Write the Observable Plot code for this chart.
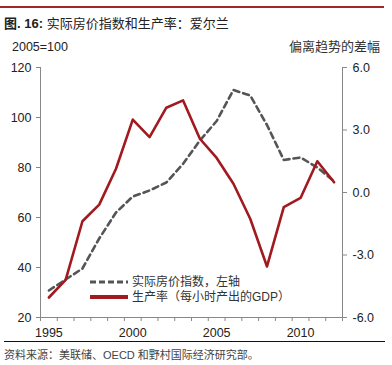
<!DOCTYPE html>
<html>
<head>
<meta charset="utf-8">
<script src="https://cdn.jsdelivr.net/npm/d3@7"></script>
<script src="https://cdn.jsdelivr.net/npm/@observablehq/plot@0.6"></script>
<style>
  html, body { margin: 0; padding: 0; background: #fff; }
  #wrap { position: relative; width: 392px; height: 365px; overflow: hidden;
    font-family: "Liberation Sans", Arial, "Noto Sans CJK SC", sans-serif; color: #222; }
  .abs { position: absolute; white-space: nowrap; }
  #topline { left: 0; top: 6px; width: 384px; height: 2px; background: #a3262a; }
  #title { left: 4px; top: 15px; font-size: 13px; line-height: 18px; color: #222; }
  #ylab { left: 12px; top: 39px; font-size: 12.5px; line-height: 16px; }
  #y2lab { right: 12px; top: 39px; font-size: 13px; line-height: 16px; color: #333; }
  #chart { left: 0; top: 36px; }
  #footline { left: 4px; top: 341px; width: 381px; height: 1px; background: #111; }
  #source { left: 4px; top: 347px; font-size: 11px; line-height: 16px; color: #444; }
</style>
</head>
<body>
<div id="wrap">
  <div id="topline" class="abs"></div>
  <div id="title" class="abs"><b>图. 16:</b> 实际房价指数和生产率：爱尔兰</div>
  <div id="ylab" class="abs">2005=100</div>
  <div id="y2lab" class="abs">偏离趋势的差幅</div>
  <div id="chart" class="abs"></div>
  <div id="footline" class="abs"></div>
  <div id="source" class="abs">资料来源：美联储、OECD 和野村国际经济研究部。</div>
</div>
<script>
const years = [1995, 1996, 1997, 1998, 1999, 2000, 2001, 2002, 2003, 2004, 2005, 2006, 2007, 2008, 2009, 2010, 2011, 2012];
const housePrice = [30.8, 35.2, 39.6, 51.6, 62.0, 68.4, 70.8, 74.0, 81.5, 90.8, 98.6, 111.0, 108.8, 97.0, 83.0, 84.0, 80.0, 74.5];
const productivity = [-5.04, -4.19, -1.38, -0.58, 1.14, 3.50, 2.66, 4.07, 4.42, 2.58, 1.66, 0.42, -1.26, -3.55, -0.70, -0.26, 1.50, 0.49];
const leftTicks = [20, 40, 60, 80, 100, 120];
const rightTicks = [-6, -3, 0, 3, 6];
const xLabels = [1995, 2000, 2005, 2010];
const seriesNames = ["实际房价指数，左轴", "生产率（每小时产出的GDP）"];
const colors = ["#555555", "#a01a1f"];

// map right axis (-6..6) onto left axis (20..120)
const yMin = leftTicks[0], yMax = leftTicks[leftTicks.length - 1];
const rMin = rightTicks[0], rMax = rightTicks[rightTicks.length - 1];
const toLeft = r => yMin + (r - rMin) * (yMax - yMin) / (rMax - rMin);
const fromLeft = v => rMin + (v - yMin) * (rMax - rMin) / (yMax - yMin);

const data = years.map((y, i) => ({year: y, hp: housePrice[i], pr: productivity[i]}));
const x0 = years[0] - 0.5, x1 = years[years.length - 1] + 0.5;
const bandEdges = d3.range(years.length + 1).map(i => x0 + i);

const axisColor = "#888";
const plot = Plot.plot({
  width: 392,
  height: 305,
  marginLeft: 40,
  marginRight: 50,
  marginTop: 31,
  marginBottom: 24,
  x: {domain: [x0, x1]},
  y: {domain: [yMin, yMax]},
  style: {fontFamily: '"Liberation Sans", Arial, "Noto Sans CJK SC", sans-serif', fontSize: "12.5px", color: "#222", background: "transparent", overflow: "visible"},
  marks: [
    Plot.ruleX([x0, x1], {stroke: axisColor}),
    Plot.ruleY([yMin], {stroke: axisColor}),
    Plot.axisY({ticks: leftTicks, tickSize: 4, tickPadding: 5, stroke: axisColor, fill: "#222", tickFormat: d => String(d), label: null}),
    Plot.axisY({anchor: "right", ticks: rightTicks.map(toLeft), tickSize: 4, tickPadding: 6, stroke: axisColor, fill: "#222", tickFormat: v => fromLeft(v).toFixed(1), label: null}),
    Plot.axisX({ticks: bandEdges, tickSize: 4, stroke: axisColor, tickFormat: () => "", label: null}),
    Plot.axisX({ticks: xLabels, tickSize: 0, tickPadding: 11, fill: "#222", tickFormat: d => String(d), label: null}),
    Plot.line(data, {x: "year", y: "hp", stroke: colors[0], strokeWidth: 2.6, strokeDasharray: "6,4"}),
    Plot.line(data, {x: "year", y: d => toLeft(d.pr), stroke: colors[1], strokeWidth: 2.6})
  ]
});
document.getElementById("chart").appendChild(plot);

// legend (inside plot area, lower left)
const svg = d3.select(plot);
const lg = svg.append("g")
  .attr("font-family", '"Liberation Sans", Arial, "Noto Sans CJK SC", sans-serif')
  .attr("font-size", 12)
  .attr("text-anchor", "start");
const rows = [{y: 246, dash: "6,3", w: 3}, {y: 261, dash: null, w: 4}];
rows.forEach((r, i) => {
  const l = lg.append("line").attr("x1", 90).attr("x2", 128).attr("y1", r.y).attr("y2", r.y)
    .attr("stroke", colors[i]).attr("stroke-width", r.w);
  if (r.dash) l.attr("stroke-dasharray", r.dash);
  lg.append("text").attr("x", 132).attr("y", r.y).attr("dy", "0.35em")
    .attr("text-anchor", "start").attr("fill", "#333").text(seriesNames[i]);
});
</script>
</body>
</html>
